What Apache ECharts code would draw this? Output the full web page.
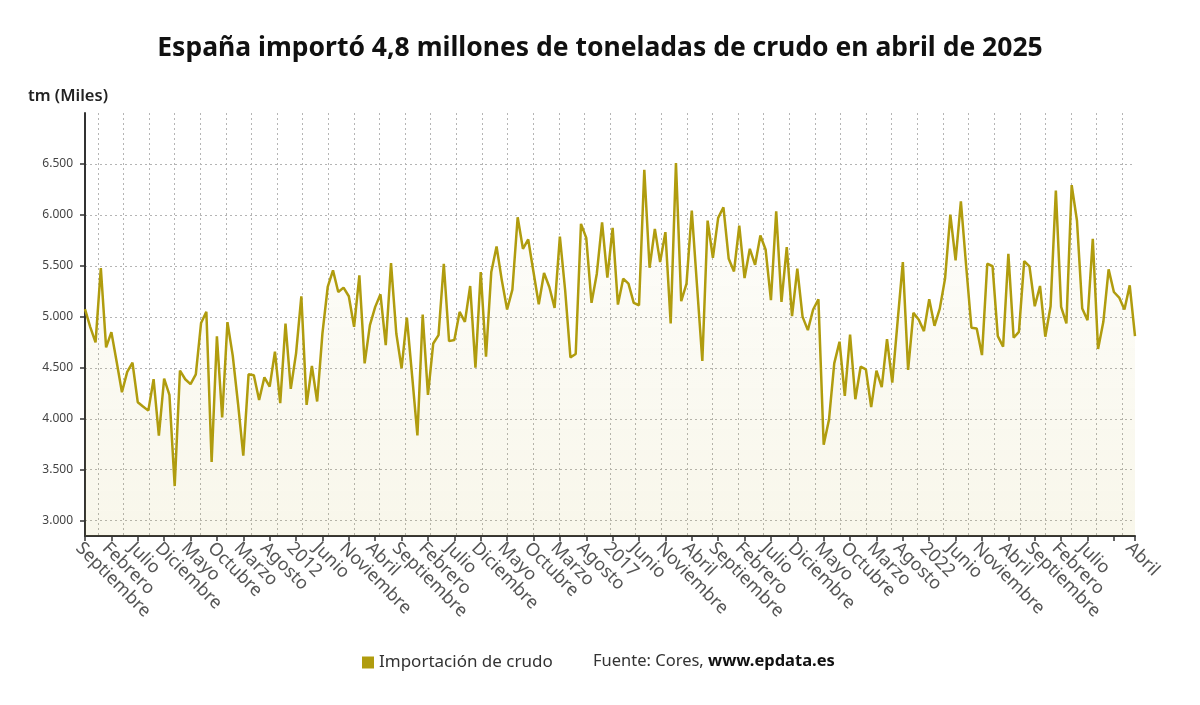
<!DOCTYPE html>
<html>
<head>
<meta charset="UTF-8">
<title>Importación de crudo</title>
<style>html,body{margin:0;padding:0;background:#fff}</style>
</head>
<body>
<div id="chart" style="width:1200px;height:705px;"></div>
<script src="https://cdn.jsdelivr.net/npm/echarts@6/dist/echarts.min.js"></script>
<script>
// meses en castellano; enero se rotula con el año
var meses = ['Enero', 'Febrero', 'Marzo', 'Abril', 'Mayo', 'Junio', 'Julio',
	'Agosto', 'Septiembre', 'Octubre', 'Noviembre', 'Diciembre'];
var anioInicio = 2008, mesInicio = 8; // septiembre 2008

// importación mensual de crudo, miles de tm (sep 2008 - abr 2025)
var importacion = [
	5075, 4900, 4750, 5479, 4700, 4850, 4560, 4260, 4460, 4550,
	4163, 4120, 4080, 4388, 3834, 4394, 4235, 3340, 4472, 4388,
	4340, 4436, 4940, 5050, 3577, 4810, 4013, 4948, 4620, 4150,
	3638, 4436, 4427, 4185, 4407, 4316, 4658, 4153, 4935, 4293,
	4642, 5202, 4137, 4518, 4170, 4837, 5293, 5456, 5244, 5287,
	5202, 4902, 5407, 4544, 4919, 5098, 5221, 4723, 5528, 4837,
	4495, 4993, 4420, 3837, 5023, 4235, 4739, 4821, 5521, 4762,
	4772, 5049, 4951, 5303, 4502, 5440, 4609, 5440, 5690, 5358,
	5072, 5267, 5977, 5668, 5759, 5440, 5124, 5430, 5293, 5088,
	5788, 5261, 4603, 4635, 5912, 5775, 5137, 5423, 5928, 5384,
	5873, 5120, 5375, 5326, 5137, 5114, 6443, 5482, 5863, 5537,
	5831, 4935, 6508, 5153, 5326, 6042, 5300, 4567, 5944, 5580,
	5971, 6075, 5570, 5446, 5896, 5381, 5668, 5511, 5798, 5658,
	5163, 6036, 5147, 5684, 5007, 5472, 5000, 4870, 5072, 5173,
	3746, 3990, 4544, 4756, 4225, 4827, 4192, 4511, 4485, 4114,
	4472, 4310, 4782, 4355, 4950, 5537, 4479, 5039, 4974, 4860,
	5173, 4912, 5081, 5375, 6003, 5554, 6133, 5500, 4893, 4886,
	4625, 5521, 5498, 4811, 4707, 5619, 4795, 4853, 5547, 5495,
	5104, 5303, 4805, 5104, 6238, 5098, 4935, 6293, 5945, 5081,
	4967, 5765, 4684, 4951, 5466, 5244, 5189, 5072, 5309, 4811
];

var yTicks = [3000, 3500, 4000, 4500, 5000, 5500, 6000, 6500];

// etiquetas del eje x
var fechas = [];
for (var i = 0; i < importacion.length; i++) {
	var m = (mesInicio + i) % 12;
	var a = anioInicio + Math.floor((mesInicio + i) / 12);
	fechas.push(m === 0 ? String(a) : meses[m]);
}
var ultimo = importacion.length - 1;

// columnas de la rejilla de fondo (líneas en el centro de 41 columnas)
var columnas = [];
for (var k = 1; k < 82; k += 2) columnas.push(k);

var olivo = '#b09c0e';
var rejilla = { color: '#b5b5b5', width: 1, type: [2, 3] };

var myChart = echarts.init(document.getElementById('chart'));

var option = {
	animation: false,
	textStyle: { fontFamily: 'Noto Sans' },
	title: {
		text: 'España importó 4,8 millones de toneladas de crudo en abril de 2025',
		left: 'center',
		top: 30,
		textStyle: { fontSize: 26.5, fontWeight: 'bold', color: '#111', fontFamily: 'Noto Sans' }
	},
	graphic: [
		{
			type: 'text', left: 28, top: 88,
			style: { text: 'tm (Miles)', fontSize: 16.5, fontWeight: 600, fill: '#222', fontFamily: 'Noto Sans' }
		},
		{
			type: 'text', left: 593, top: 653,
			style: {
				text: '{a|Fuente: Cores, }{b|www.epdata.es}',
				rich: {
					a: { fontSize: 16.5, fill: '#333', fontFamily: 'Noto Sans' },
					b: { fontSize: 16.5, fill: '#111', fontWeight: 'bold', fontFamily: 'Noto Sans' }
				}
			}
		}
	],
	legend: {
		data: ['Importación de crudo'],
		left: 357,
		top: 649,
		icon: 'rect',
		itemWidth: 12,
		itemHeight: 12,
		itemGap: 8,
		textStyle: { fontSize: 17, color: '#333', fontFamily: 'Noto Sans' }
	},
	grid: { left: 85, right: 65, top: 113, bottom: 169, containLabel: false },
	xAxis: [
		{
			type: 'category',
			data: fechas,
			boundaryGap: false,
			axisLine: { lineStyle: { color: '#333', width: 2 } },
			axisTick: {
				length: 5,
				lineStyle: { color: '#333', width: 1.5 },
				interval: function (i) { return i % 5 === 0 || i === ultimo; }
			},
			axisLabel: {
				rotate: -45,
				margin: 3,
				fontSize: 18,
				color: '#555',
				verticalAlign: 'top',
				fontFamily: 'Noto Sans',
				interval: function (i) { return (i % 5 === 0 && i < ultimo - 4) || i === ultimo; }
			},
			splitLine: { show: false }
		},
		{
			type: 'value',
			min: 0,
			max: 82,
			position: 'top',
			axisLine: { show: false },
			axisTick: { show: false, customValues: columnas },
			axisLabel: { show: false, customValues: columnas },
			splitLine: { show: true, lineStyle: rejilla }
		}
	],
	yAxis: {
		type: 'value',
		min: 2850,
		max: 7000,
		axisLine: { show: true, lineStyle: { color: '#333', width: 2 } },
		axisTick: { show: true, length: 5, lineStyle: { color: '#333', width: 1.5 }, customValues: yTicks },
		axisLabel: {
			customValues: yTicks,
			margin: 12,
			fontSize: 12,
			color: '#444',
			fontFamily: 'Noto Sans',
			formatter: function (v) { return String(v).replace(/\B(?=(\d{3})+(?!\d))/g, '.'); }
		},
		splitLine: { show: true, lineStyle: rejilla }
	},
	series: [
		{
			name: 'Importación de crudo',
			type: 'line',
			xAxisIndex: 0,
			data: importacion,
			symbol: 'none',
			itemStyle: { color: olivo },
			lineStyle: { color: olivo, width: 2.5 },
			areaStyle: {
				color: new echarts.graphic.LinearGradient(0, 0, 0, 1, [
					{ offset: 0, color: 'rgba(176,156,14,0.02)' },
					{ offset: 1, color: 'rgba(176,156,14,0.12)' }
				])
			},
			z: 3
		}
	]
};
myChart.setOption(option);
</script>
</body>
</html>
